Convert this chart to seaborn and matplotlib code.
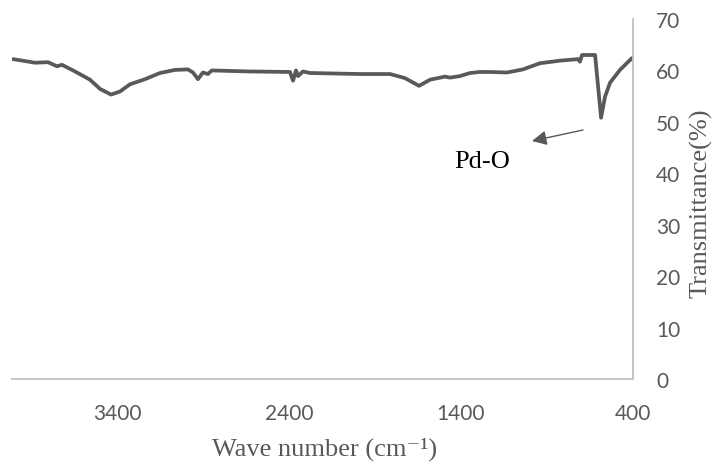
import matplotlib
matplotlib.use("Agg")
import matplotlib.pyplot as plt
import seaborn as sns
import pandas as pd

# Data
wavenumber = [4008, 3880, 3804, 3752, 3723, 3647, 3560, 3501, 3437, 3385,
              3327, 3239, 3152, 3065, 2989, 2960, 2931, 2902, 2873, 2850,
              2634, 2395, 2377, 2360, 2348, 2319, 2278, 1987, 1812, 1725,
              1643, 1579, 1492, 1463, 1405, 1346, 1288, 1236, 1131, 1038,
              939, 822, 717, 706, 694, 618, 583, 560, 531, 473, 403]
transmittance = [62.2, 61.5, 61.6, 60.8, 61.1, 59.8, 58.2, 56.4, 55.3, 55.9,
                 57.3, 58.3, 59.5, 60.1, 60.2, 59.6, 58.3, 59.6, 59.3, 60.0,
                 59.8, 59.7, 58.0, 60.0, 58.9, 59.8, 59.5, 59.3, 59.3, 58.5,
                 57.0, 58.2, 58.8, 58.6, 58.9, 59.5, 59.7, 59.7, 59.6, 60.2,
                 61.4, 61.9, 62.2, 61.7, 63.0, 63.0, 50.8, 54.9, 57.6, 60.1, 62.4]
x_ticks = [3400, 2400, 1400, 400]
y_ticks = [0, 10, 20, 30, 40, 50, 60, 70]
x_label = "Wave number (cm\u207b\u00b9)"
y_label = "Transmittance(%)"
annotation = "Pd-O"

df = pd.DataFrame({"wn": wavenumber, "T": transmittance})

sns.set_theme(style="white")
plt.rcParams["font.family"] = ["Lato", "DejaVu Sans"]

W, H = 714, 464
fig = plt.figure(figsize=(W / 100, H / 100), dpi=100)
ax = fig.add_axes([12 / W, 1 - 380 / H, (632.5 - 12) / W, (380 - 20) / H])

sns.lineplot(data=df, x="wn", y="T", ax=ax, color="#595959", linewidth=2.7)

ax.set_xlim(4014, 400)
ax.set_ylim(0, 70)
ax.set_xticks(x_ticks)
ax.set_yticks(y_ticks)
ax.yaxis.tick_right()
ax.set_xlabel("")
ax.set_ylabel("")
ax.tick_params(axis="both", length=0, colors="#595959", labelsize=15)
ax.tick_params(axis="x", pad=17)
ax.tick_params(axis="y", pad=17)
for lbl in ax.get_yticklabels():
    lbl.set_horizontalalignment("left")

for side in ["top", "left"]:
    ax.spines[side].set_visible(False)
for side in ["right", "bottom"]:
    ax.spines[side].set_visible(True)
    ax.spines[side].set_color("#bfbfbf")
    ax.spines[side].set_linewidth(1.3)

serif = ["Liberation Serif", "DejaVu Serif"]
fig.text(325 / W, 1 - 449 / H, x_label, ha="center", va="center",
         fontsize=19, family=serif, color="#595959")
fig.text(701 / W, 1 - 203 / H, y_label, ha="center", va="center",
         rotation=90, fontsize=19, family=serif, color="#595959")

ax.annotate("", xy=(532, H - 142), xycoords="figure pixels",
            xytext=(583, H - 131), textcoords="figure pixels",
            arrowprops=dict(arrowstyle="-|>", color="#595959", lw=1.0,
                            mutation_scale=22, shrinkA=0, shrinkB=0))
fig.text(482 / W, 1 - 162 / H, annotation, ha="center", va="center",
         fontsize=19, family=serif, color="black")

fig.savefig("out.png", dpi=100)
